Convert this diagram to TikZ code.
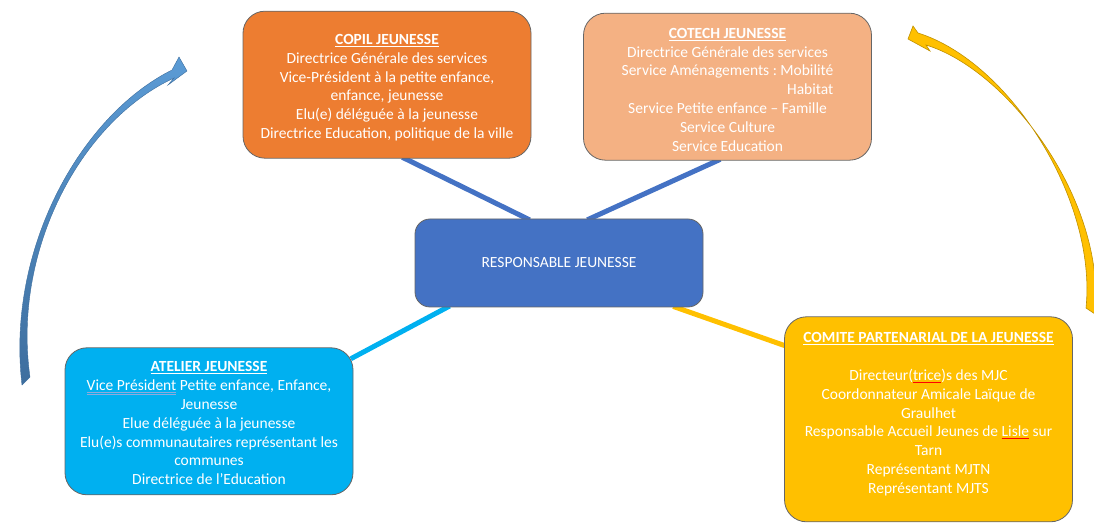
\documentclass[tikz,border=0pt]{standalone}
\usepackage{fontspec}
\setmainfont{Carlito}
\usepackage{calc}
\usetikzlibrary{positioning,backgrounds}
\definecolor{copilorange}{HTML}{ED7D31}
\definecolor{cotechpeach}{HTML}{F4B183}
\definecolor{respblue}{HTML}{4472C4}
\definecolor{ateliercyan}{HTML}{00B0F0}
\definecolor{comitegold}{HTML}{FFC000}
\definecolor{golddark}{HTML}{BF9000}
\definecolor{arrowlight}{HTML}{5B9BD5}
\definecolor{arrowdark}{HTML}{3E6E9E}
\definecolor{spellblue}{HTML}{8FAADC}
\frenchspacing
\begin{document}
\begin{tikzpicture}[x=1pt,y=1pt,
		every node/.style={text=white, align=center, font=\fontsize{15.5}{18.8}\selectfont},
		box/.style={draw=black!60, line width=0.8pt, rounded corners=22pt, minimum width=288pt, minimum height=147pt, inner sep=0pt},
		link/.style={line width=5pt, shorten <=-3pt, shorten >=-3pt}]
		\useasboundingbox (0,0) rectangle (1094,522);
		\node (resp) [box, fill=respblue, minimum height=88pt, rounded corners=15pt] at (559,259) {RESPONSABLE JEUNESSE};
		\node (copil) [box, fill=copilorange, above=60pt of resp, xshift=-172pt] {\rule{0pt}{16pt}\underline{\textbf{COPIL JEUNESSE}}\\
			Directrice Générale des services\\
			Vice-Président à la petite enfance,\\
			enfance, jeunesse\\
			Elu(e) déléguée à la jeunesse\\
			Directrice Education, politique de la ville};
		\node (cotech) [box, fill=cotechpeach, above=58pt of resp, xshift=168.5pt] {\rule{0pt}{16pt}\underline{\textbf{COTECH JEUNESSE}}\\
			Directrice Générale des services\\
			Service Aménagements : Mobilité\\
			\makebox[\widthof{Service Aménagements : Mobilité}][r]{Habitat}\\
			Service Petite enfance -- Famille\\
			Service Culture\\
			Service Education};
		\node (atelier) [box, fill=ateliercyan, below=40pt of resp, xshift=-350pt] {\rule{0pt}{14pt}\underline{\textbf{ATELIER JEUNESSE}}\\
			\textcolor{spellblue}{\underline{\underline{\textcolor{white}{Vice Président}}}} Petite enfance, Enfance,\\
			Jeunesse\\
			Elue déléguée à la jeunesse\\
			Elu(e)s communautaires représentant les\\
			communes\\
			Directrice de l’Education};
		\node (comite) [box, fill=comitegold, minimum height=205pt, below=9pt of resp, xshift=369.5pt] {\underline{\textbf{COMITE PARTENARIAL DE LA JEUNESSE}}\\[18.8pt]
			Directeur(\textcolor{red}{\underline{\textcolor{white}{trice}}})s des MJC\\
			Coordonnateur Amicale Laïque de\\
			Graulhet\\
			Responsable Accueil Jeunes de \textcolor{red}{\underline{\textcolor{white}{Lisle}}} sur\\
			Tarn\\
			Représentant MJTN\\
			Représentant MJTS\\[-12pt]\strut};
		\begin{scope}[on background layer]
		\draw [link, respblue] ([xshift=18pt]copil.south) -- ([xshift=-32pt]resp.north);
		\draw [link, respblue] ([xshift=-10pt]cotech.south) -- ([xshift=31pt]resp.north);
		\draw [link, ateliercyan] ([xshift=-112pt]resp.south) -- ([yshift=-10pt]atelier.north east);
		\draw [link, comitegold] ([xshift=117pt]resp.south) -- ([yshift=-29pt]comite.north west);
		\end{scope}
		\shade [top color=arrowlight, bottom color=arrowdark, draw=arrowdark, line width=0.4pt]
			(22,137) .. controls (6,272) and (80,406) .. (172,452) -- (179,465) -- (187,451) -- (168,437) -- (174,444)
			.. controls (81,401) and (12,272) .. (30,145) -- cycle;
		\filldraw [fill=comitegold, draw=golddark, line width=0.6pt]
			(1086,214) .. controls (1097,322) and (1010,460) .. (918,489) -- (913,496) -- (908,483) -- (930,471) -- (926,477)
			.. controls (1008,452) and (1106,322) .. (1095,208) -- cycle;
\end{tikzpicture}
\end{document}
